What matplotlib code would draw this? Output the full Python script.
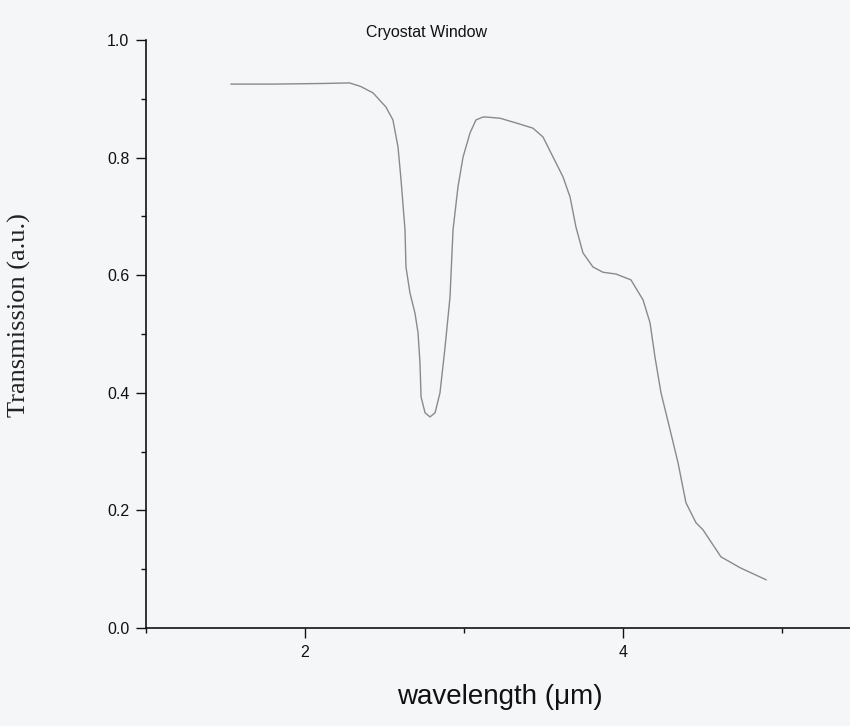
import matplotlib
matplotlib.use("Agg")
import matplotlib.pyplot as plt
from matplotlib.ticker import MultipleLocator, FixedLocator

wavelength = [1.535, 1.8, 2.1, 2.28, 2.35, 2.428, 2.509, 2.553, 2.585, 2.604, 2.629,
              2.635, 2.660, 2.692, 2.711, 2.723, 2.730, 2.755, 2.786, 2.818, 2.849,
              2.881, 2.912, 2.931, 2.962, 2.994, 3.038, 3.075, 3.119, 3.138, 3.226,
              3.327, 3.434, 3.497, 3.560, 3.623, 3.667, 3.704, 3.748, 3.811, 3.874,
              3.956, 4.050, 4.126, 4.170, 4.201, 4.239, 4.296, 4.346, 4.396, 4.459,
              4.503, 4.616, 4.74, 4.82, 4.90]
transmission = [0.925, 0.925, 0.926, 0.927, 0.921, 0.910, 0.886, 0.864, 0.818, 0.762,
                0.677, 0.614, 0.570, 0.535, 0.502, 0.451, 0.393, 0.366, 0.359, 0.366,
                0.400, 0.478, 0.563, 0.677, 0.750, 0.801, 0.842, 0.864, 0.869, 0.869,
                0.867, 0.859, 0.850, 0.835, 0.801, 0.767, 0.733, 0.682, 0.638, 0.614,
                0.605, 0.602, 0.592, 0.558, 0.519, 0.461, 0.400, 0.337, 0.281, 0.213,
                0.179, 0.167, 0.121, 0.102, 0.092, 0.082]

title = "Cryostat Window"
xlabel = "wavelength (\u03bcm)"
ylabel = "Transmission (a.u.)"

bg = "#f5f6f8"
fig = plt.figure(figsize=(8.5, 7.26), dpi=100, facecolor=bg)
ax = fig.add_axes([146/850, 1-628/726, 1-146/850, (628-40)/726])
ax.set_facecolor(bg)

ax.plot(wavelength, transmission, color="#8a8a8a", lw=1.0,
        solid_joinstyle="round", antialiased=True)

ax.set_xlim(1.0, 1.0 + (850-146)/159)
ax.set_ylim(0.0, 1.0)

ax.spines["top"].set_visible(False)
ax.spines["right"].set_visible(False)
for s in ("left", "bottom"):
    ax.spines[s].set_linewidth(1.2)
    ax.spines[s].set_color("#111111")

ax.xaxis.set_major_locator(FixedLocator([2, 4]))
ax.xaxis.set_minor_locator(FixedLocator([1, 3, 5]))
ax.yaxis.set_major_locator(MultipleLocator(0.2))
ax.yaxis.set_minor_locator(MultipleLocator(0.1))
ax.set_yticks([0.0, 0.2, 0.4, 0.6, 0.8, 1.0])
ax.set_yticklabels(["0.0", "0.2", "0.4", "0.6", "0.8", "1.0"])
ax.set_xticklabels(["2", "4"])

ax.tick_params(which="major", direction="out", length=7, width=1.0, color="#111111",
               labelsize=11.5, pad=5)
ax.tick_params(which="minor", direction="out", length=3.5, width=1.0, color="#111111")
for lab in ax.get_xticklabels() + ax.get_yticklabels():
    lab.set_fontfamily("Liberation Sans")
    lab.set_color("#111111")

fig.text(427/850, 1-32/726, title, ha="center", va="center",
         fontfamily="Liberation Sans", fontsize=11.5, color="#111111")
fig.text(500/850, 1-697/726, xlabel, ha="center", va="center",
         fontfamily="Liberation Sans", fontsize=20, color="#111111")
fig.text(19/850, 1-315/726, ylabel, ha="center", va="center", rotation=90,
         fontfamily="Liberation Serif", fontsize=19, color="#222222")

fig.savefig("out.png", dpi=100, facecolor=bg)
